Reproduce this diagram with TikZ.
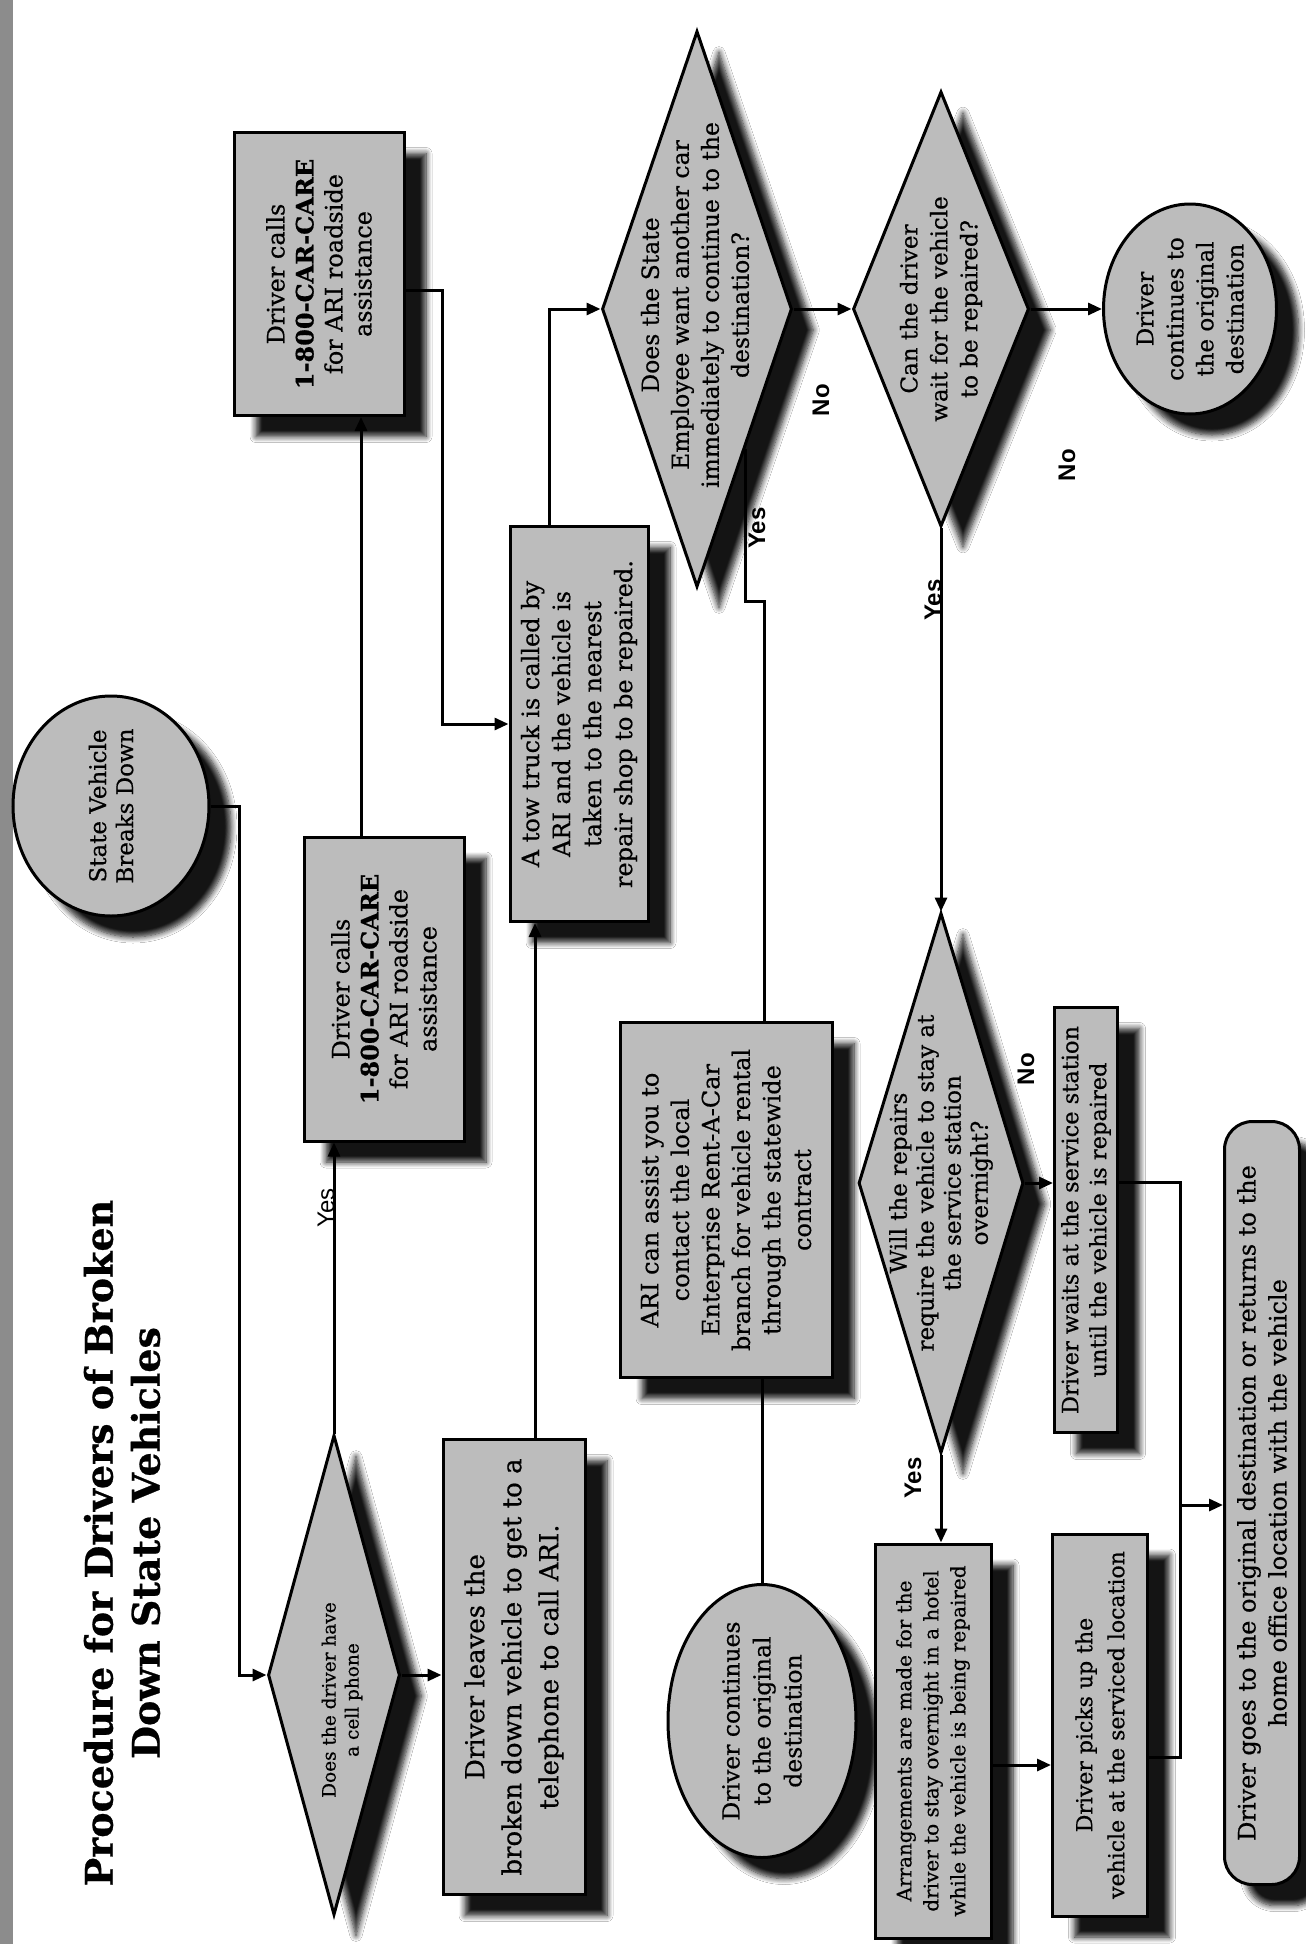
\documentclass[tikz,border=0pt]{standalone}
\usepackage{fontspec}
\setmainfont{DejaVu Serif}[FakeBold=0.6]
\newfontfamily\lsans{Liberation Sans}
\usetikzlibrary{shapes.geometric,shadows.blur,arrows.meta,calc}
\definecolor{boxfill}{RGB}{188,188,188}
\definecolor{stripgray}{RGB}{140,140,140}
\newcommand\fsz[2]{\fontsize{#1}{#2}\selectfont}
\tikzset{
  shp/.style={draw=black, line width=3pt, fill=boxfill, rotate=90, inner sep=0pt,
    blur shadow={shadow xshift=22pt, shadow yshift=-21pt, shadow blur radius=6pt,
      shadow opacity=92, shadow blur steps=8}},
  procbox/.style={shp, rectangle, align=center},
  decis/.style={shp, diamond},
  term/.style={shp, ellipse},
  rterm/.style={shp, rectangle, rounded corners=28pt, align=center},
  txt/.style={rotate=90, align=center, inner sep=0pt},
  lbl/.style={rotate=90, font=\lsans\bfseries\fsz{24}{28}, inner sep=0pt},
  arr/.style={line width=3pt, -{Triangle[length=14pt,width=12pt]}},
  ln/.style={line width=3pt},
}
\begin{document}
\begin{tikzpicture}[x=1pt,y=-1pt]
\useasboundingbox (0,0) rectangle (1306,1944);
\fill[white] (0,0) rectangle (1306,1944);
\fill[stripgray] (0,0) rectangle (13,1944);

% title
\node[txt, font=\bfseries\fsz{38}{47}] (title) at (122,1543) {Procedure for Drivers of Broken\\Down State Vehicles};

% nodes
\node[term, minimum width=220pt, minimum height=196pt] (c1) at (111,806) {};
\node[txt, font=\fsz{23}{27}] (c1t) at (c1) {State Vehicle\\Breaks Down};

\node[procbox, minimum width=283pt, minimum height=170pt, font=\fsz{24}{29}] (b2) at (319,274)
  {Driver calls\\\textbf{1-800-CAR-CARE}\\for ARI roadside\\assistance};
\node[procbox, minimum width=304pt, minimum height=160pt, font=\fsz{24}{29}] (b1) at (384,989)
  {Driver calls\\\textbf{1-800-CAR-CARE}\\for ARI roadside\\assistance};
\node[procbox, minimum width=395pt, minimum height=138pt, font=\fsz{24}{31}] (tow) at (579,724)
  {A tow truck is called by\\ARI and the vehicle is\\taken to the nearest\\repair shop to be repaired.};

\node[decis, minimum width=556pt, minimum height=190pt] (d2) at (697,309) {};
\node[txt, font=\fsz{23.5}{30}] (d2t) at (695,305) {Does the State\\Employee want another car\\immediately to continue to the\\destination?};

\node[decis, minimum width=435pt, minimum height=176pt] (d3) at (941,309) {};
\node[txt, font=\fsz{23}{30}] (d3t) at (d3) {Can the driver\\wait for the vehicle\\to be repaired?};

\node[term, minimum width=210pt, minimum height=173pt] (c3) at (1190,309) {};
\node[txt, font=\fsz{23}{30}] (c3t) at (c3) {Driver\\continues to\\the original\\destination};

\node[decis, minimum width=480pt, minimum height=132pt] (d1) at (334,1675) {};
\node[txt, font=\fsz{18.5}{23}] (d1t) at (342,1700) {Does the driver have\\a cell phone};

\node[procbox, minimum width=455pt, minimum height=142pt, font=\fsz{26}{37}] (b4) at (514,1667)
  {Driver leaves the\\broken down vehicle to get to a\\telephone to call ARI.};

\node[procbox, minimum width=355pt, minimum height=212pt, font=\fsz{24}{30.5}] (b3) at (726,1200)
  {ARI can assist you to\\contact the local\\Enterprise Rent-A-Car\\branch for vehicle rental\\through the statewide\\contract};

\node[term, minimum width=273pt, minimum height=188pt] (c2) at (762,1721) {};
\node[txt, font=\fsz{23.5}{31}] (c2t) at (c2) {Driver continues\\to the original\\destination};

\node[decis, minimum width=540pt, minimum height=165pt] (d4) at (941,1183) {};
\node[txt, font=\fsz{23}{27}] (d4t) at (d4) {Will the repairs\\require the vehicle to stay at\\the service station\\overnight?};

\node[procbox, minimum width=425pt, minimum height=63pt, font=\fsz{22.5}{28}] (b5) at (1086,1220)
  {Driver waits at the service station\\until the vehicle is repaired};
\node[procbox, minimum width=394pt, minimum height=116pt, font=\fsz{20}{27}] (b6) at (933,1741)
  {Arrangements are made for the\\driver to stay overnight in a hotel\\while the vehicle is being repaired};
\node[procbox, minimum width=382pt, minimum height=95pt, font=\fsz{22}{32}] (b8) at (1100,1725)
  {Driver picks up the\\vehicle at the serviced location};
\node[rterm, minimum width=763pt, minimum height=75pt, font=\fsz{24}{31}] (b7) at (1262,1503)
  {Driver goes to the original destination or returns to the\\home office location with the vehicle};

% helper coordinates
\coordinate (k1) at (239,806);
\coordinate (k2) at (361,0);
\coordinate (k3) at (442,290);
\coordinate (k4) at (535,0);
\coordinate (k5) at (549,0);
\coordinate (k6) at (764,601);
\coordinate (k7) at (0,1765);
\coordinate (k8) at (1180,1182);
\coordinate (k10) at (1180,1757);
\coordinate (jn) at (1180,1505);

% connectors
\draw[arr] (c1.south) -- (k1) |- (d1.north);
\draw[arr] (d1.south) -- (d1.south -| b4.north);
\draw[arr] (d1.east) -- (d1.east |- b1.west);
\draw[arr] (b1.east -| k2) -- (b2.west -| k2);
\draw[arr] (b2.south |- k3) -- (k3) |- (tow.north);
\draw[arr] (b4.east -| k4) -- (tow.west -| k4);
\draw[arr] (tow.east -| k5) |- (d2.north);
\draw[arr] (d2.south) -- (d3.north);
\draw[arr] (d3.south) -- (c3.north);
\draw[ln] (d2.south west) |- (k6) -- (k6 |- b3.east);
\draw[ln] (b3.west -| c2.east) -- (c2.east);
\draw[arr] (d3.west) -- (d4.east);
\draw[arr] (d4.south) -- (d4.south -| b5.north);
\draw[arr] (d4.west) -- (d4.west |- b6.east);
\draw[arr] (b6.south |- k7) -- (b8.north |- k7);
\draw[ln] (b5.south |- k8) -- (k8) -- (jn);
\draw[ln] (b8.south |- k10) -- (k10) -- (jn);
\draw[arr] (jn) -- (jn -| b7.north);

% labels
\node[rotate=90, font=\lsans\fsz{24}{28}, inner sep=0pt] (y1) at (326,1208) {Yes};
\node[lbl] (n1) at (821,400) {No};
\node[lbl] (y2) at (757,528) {Yes};
\node[lbl] (n2) at (1067,465) {No};
\node[lbl] (y3) at (933,600) {Yes};
\node[lbl] (n3) at (1026,1069) {No};
\node[lbl] (y4) at (913,1478) {Yes};
\end{tikzpicture}
\end{document}
